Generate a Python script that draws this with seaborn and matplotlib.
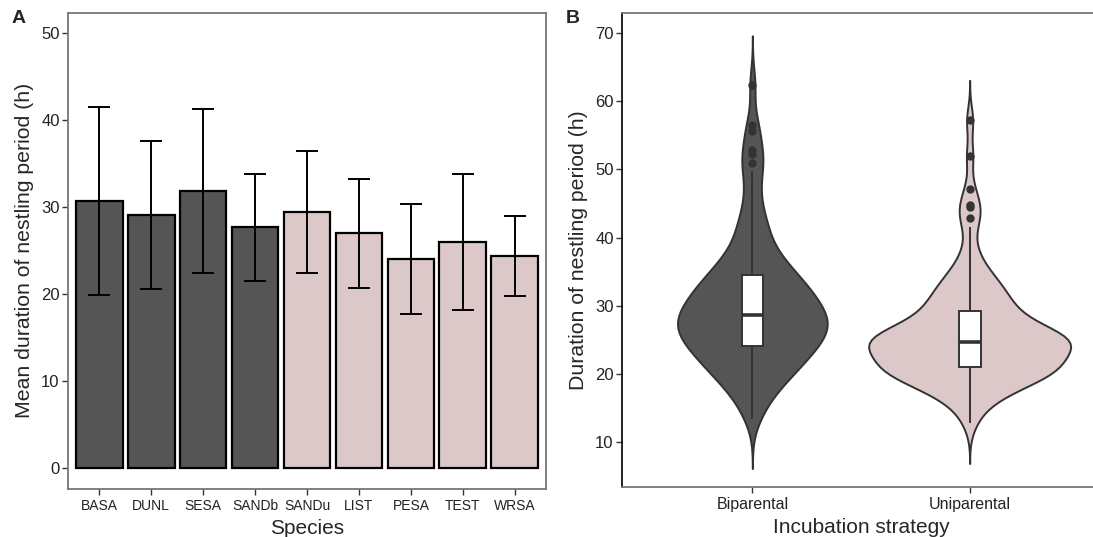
import pandas as pd
import numpy as np
import matplotlib.pyplot as plt
import seaborn as sns

# panel A: mean +/- sd per species
species = ["BASA", "DUNL", "SESA", "SANDb", "SANDu", "LIST", "PESA", "TEST", "WRSA"]
mean_dur = [30.7, 29.05, 31.8, 27.65, 29.4, 26.95, 24.0, 25.95, 24.3]
sd_dur = [10.8, 8.55, 9.4, 6.15, 7.0, 6.25, 6.3, 7.85, 4.6]
strategy = ["Biparental"] * 4 + ["Uniparental"] * 5

# panel B: nestling durations (h) per incubation strategy
biparental = [
    13.3, 14.6, 15.8, 16.7, 17.3, 17.9, 18.5, 18.9, 19.3, 19.6, 19.9,
    20.3, 20.7, 21.0, 21.3, 21.6, 21.9, 22.1, 22.35,
    22.6, 22.85, 23.1, 23.35, 23.6, 23.85, 24.05, 24.25, 24.45, 24.65, 24.85,
    25.05, 25.25, 25.45, 25.65, 25.85, 26.05, 26.25, 26.45, 26.65, 26.85, 27.0,
    27.15, 27.3, 27.45,
    27.6, 27.75, 27.9, 28.05, 28.2, 28.4, 28.8, 29.0, 29.2, 29.4, 29.6, 29.75, 29.9,
    30.1, 30.3, 30.5, 30.75, 31.0, 31.25, 31.5, 31.75, 32.0, 32.2, 32.4,
    32.6, 32.85, 33.1, 33.4, 33.7, 34.0, 34.35, 34.65, 34.9,
    35.3, 35.7, 36.1, 36.5, 36.9, 37.3, 38.0, 38.7, 39.5,
    40.4, 41.2, 42.0, 43.0, 44.2, 46.0, 48.0, 49.8,
    51.0, 52.3, 52.8, 55.6, 56.6, 62.4,
]
uniparental = [
    12.7, 14.3, 15.4, 16.1, 16.6, 17.0, 17.3,
    17.7, 18.0, 18.3, 18.6, 18.8, 19.0, 19.2, 19.4, 19.55, 19.7, 19.85, 19.95,
    20.1, 20.25, 20.4, 20.55, 20.7, 20.85, 21.0, 21.15, 21.3, 21.45, 21.6, 21.75,
    21.9, 22.05, 22.2, 22.3, 22.4,
    22.7, 22.9, 23.1, 23.3, 23.5, 23.65, 23.8, 23.95, 24.1, 24.2, 24.3, 24.4,
    24.5, 24.55, 24.65, 24.75, 24.85, 24.95,
    25.05, 25.15, 25.3, 25.45, 25.6, 25.75, 25.9, 26.05, 26.2, 26.35, 26.5, 26.7,
    26.9, 27.1, 27.3, 27.45,
    27.7, 28.1, 28.5, 28.9, 29.2, 29.4, 29.65, 29.85,
    30.2, 30.6, 31.0, 31.4, 31.8, 32.1, 32.4, 32.9, 33.4, 33.9, 34.4, 34.9,
    35.8, 37.0, 38.6, 41.6,
    42.9, 44.5, 44.8, 47.2, 52.0, 57.2,
]

dark = "#555555"
pink = "#dcc8c9"
outline = "#333333"
spine_col = "#777777"

sns.set_theme(style="white")
plt.rcParams["font.family"] = ["Liberation Sans", "DejaVu Sans"]

fig = plt.figure(figsize=(10.93, 5.37), dpi=100)
W, H = 1093, 537
ax1 = fig.add_axes([68 / W, 1 - 489 / H, (546 - 68) / W, (489 - 12.5) / H])
ax2 = fig.add_axes([622 / W, 1 - 487 / H, (1100 - 622) / W, (487 - 12.5) / H])

# ---- A: bars with sd error bars
bar_df = pd.DataFrame({"species": species, "mean": mean_dur, "sd": sd_dur, "strategy": strategy})
sns.barplot(
    data=bar_df, x="species", y="mean", hue="strategy",
    palette={"Biparental": dark, "Uniparental": pink},
    order=species, width=0.9, dodge=False, saturation=1,
    edgecolor="black", linewidth=1.6, legend=False, ax=ax1,
)
ax1.errorbar(
    np.arange(len(species)), bar_df["mean"], yerr=bar_df["sd"],
    fmt="none", ecolor="black", elinewidth=1.4, capsize=7.7, capthick=1.4, zorder=5,
)
ax1.set_xlim(-0.6, len(species) - 0.4)
ax1.set_ylim(-2.45, 52.35)
ax1.set_yticks([0, 10, 20, 30, 40, 50])
ax1.set_xlabel("Species", fontsize=15, labelpad=4.5)
ax1.set_ylabel("Mean duration of nestling period (h)", fontsize=15.3, labelpad=5)
ax1.tick_params(axis="x", labelsize=10, length=4, width=1, color=outline, pad=3, labelcolor="#222222")
ax1.tick_params(axis="y", labelsize=12, length=4, width=1, color=outline, pad=2, labelcolor="#222222")
ax1.tick_params(bottom=True, left=True)
for s in ax1.spines.values():
    s.set_color(spine_col)
    s.set_linewidth(1.3)

# ---- B: violins with narrow boxplots
vio_df = pd.DataFrame({
    "strategy": ["Biparental"] * len(biparental) + ["Uniparental"] * len(uniparental),
    "duration": biparental + uniparental,
})
order = ["Biparental", "Uniparental"]
sns.violinplot(
    data=vio_df, x="strategy", y="duration", hue="strategy", order=order,
    palette={"Biparental": dark, "Uniparental": pink}, inner=None,
    width=0.93, cut=3, bw_method=0.25, common_norm=True, saturation=1,
    linecolor=outline, linewidth=1.4, legend=False, ax=ax2,
)
sns.boxplot(
    data=vio_df, x="strategy", y="duration", order=order, width=0.1,
    color="white", saturation=1, linecolor=outline, linewidth=1.4,
    showcaps=False, medianprops=dict(linewidth=2.6, color=outline),
    flierprops=dict(marker="o", markersize=5, markerfacecolor=outline,
                    markeredgecolor=outline),
    ax=ax2,
)
ax2.set_xlim(-0.6, 1.6)
ax2.set_ylim(3.35, 73.06)
ax2.set_yticks([10, 20, 30, 40, 50, 60, 70])
ax2.set_xlabel("Incubation strategy", fontsize=15, labelpad=4.5)
ax2.set_ylabel("Duration of nestling period (h)", fontsize=15.3, labelpad=5)
ax2.tick_params(axis="x", labelsize=11.5, length=4, width=1, color=outline, pad=3, labelcolor="#222222")
ax2.tick_params(axis="y", labelsize=12, length=4, width=1, color=outline, pad=2, labelcolor="#222222")
ax2.tick_params(bottom=True, left=True)
for s in ax2.spines.values():
    s.set_color(spine_col)
    s.set_linewidth(1.3)
ax2.spines["left"].set_color("#111111")

fig.text(12 / W, 1 - 10 / H, "A", fontsize=14, fontweight="bold", va="top", ha="left")
fig.text(566 / W, 1 - 10 / H, "B", fontsize=14, fontweight="bold", va="top", ha="left")

fig.savefig("out.png", dpi=100)
